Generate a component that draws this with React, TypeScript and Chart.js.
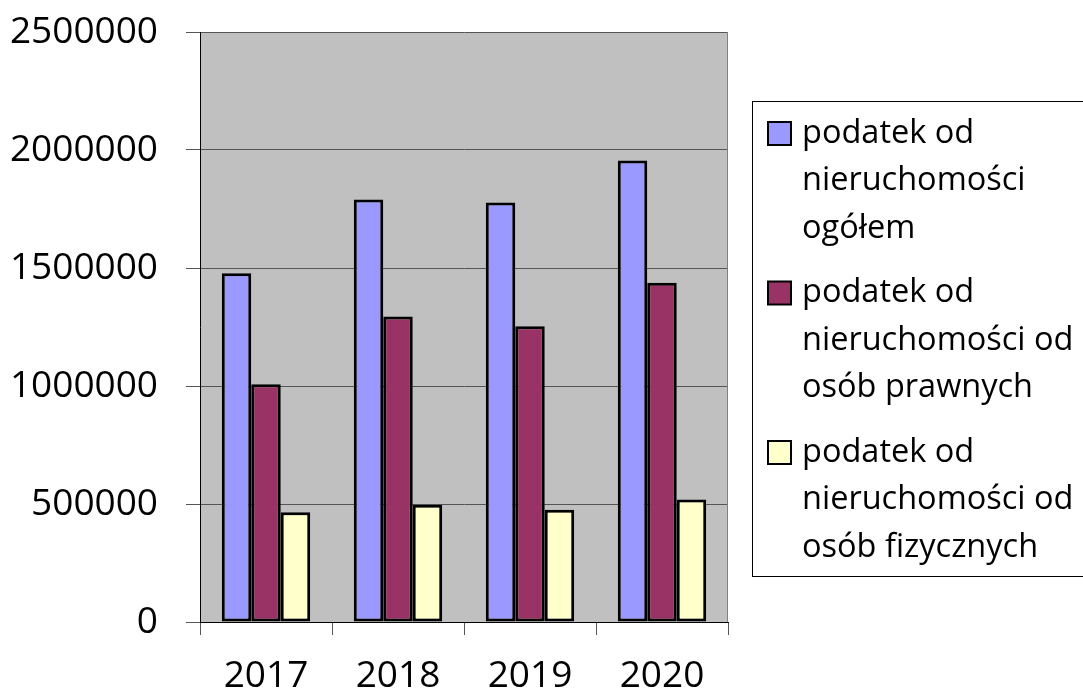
import React, { useEffect, useRef } from 'react';
import { Chart, registerables } from 'chart.js';

Chart.register(...registerables);

const categories = ['2017', '2018', '2019', '2020'];
const seriesLabels = [
  ['podatek od', 'nieruchomości', 'ogółem'],
  ['podatek od', 'nieruchomości od', 'osób prawnych'],
  ['podatek od', 'nieruchomości od', 'osób fizycznych'],
];
const ogolem = [1478000, 1790000, 1778000, 1956000];
const osobyPrawne = [1007000, 1295000, 1253000, 1438000];
const osobyFizyczne = [465000, 497000, 476000, 519000];
const seriesColors = ['#9999FF', '#993366', '#FFFFCC'];
const yMax = 2500000;
const yStep = 500000;

const FONT = "'Open Sans', sans-serif";

const plotBackground = {
  id: 'plotBackground',
  beforeDraw(chart: any) {
    const { ctx, chartArea } = chart;
    ctx.save();
    ctx.fillStyle = '#C0C0C0';
    ctx.fillRect(chartArea.left, chartArea.top, chartArea.right - chartArea.left, chartArea.bottom - chartArea.top);
    ctx.restore();
  },
  afterDraw(chart: any) {
    const { ctx, chartArea } = chart;
    ctx.save();
    ctx.strokeStyle = '#808080';
    ctx.lineWidth = 1;
    ctx.beginPath();
    ctx.moveTo(Math.round(chartArea.right) - 0.5, chartArea.top);
    ctx.lineTo(Math.round(chartArea.right) - 0.5, chartArea.bottom);
    ctx.stroke();
    ctx.restore();
  },
};

const boxLegend = {
  id: 'boxLegend',
  afterDraw(chart: any) {
    const { ctx } = chart;
    ctx.save();
    ctx.strokeStyle = '#000';
    ctx.lineWidth = 1;
    ctx.strokeRect(752.5, 101.5, 400, 475);
    ctx.font = `32.5px ${FONT}`;
    ctx.textBaseline = 'middle';
    ctx.textAlign = 'left';
    ctx.fillStyle = '#000';
    chart.data.datasets.forEach((ds: any, i: number) => {
      const top = 122 + i * 159.5;
      ctx.fillStyle = ds.backgroundColor;
      ctx.fillRect(768, top, 23, 23);
      ctx.strokeStyle = '#000';
      ctx.lineWidth = 2;
      ctx.strokeRect(768, top, 23, 23);
      ctx.fillStyle = '#000';
      const lines: string[] = ds.legendLines;
      lines.forEach((line, j) => {
        ctx.fillText(line, 802, top + 11.5 + j * 47.5);
      });
    });
    ctx.restore();
  },
};

export default function App() {
  const ref = useRef<HTMLCanvasElement>(null);

  useEffect(() => {
    if (!ref.current) return;
    const dataSeries = [ogolem, osobyPrawne, osobyFizyczne];
    const chart = new Chart(ref.current, {
      type: 'bar',
      data: {
        labels: categories,
        datasets: dataSeries.map((d, i) => ({
          label: seriesLabels[i].join(' '),
          legendLines: seriesLabels[i],
          data: d,
          backgroundColor: seriesColors[i],
          borderColor: '#000000',
          borderWidth: 3,
          borderSkipped: false,
          categoryPercentage: 0.67,
          barPercentage: 1.0,
        })) as any,
      },
      options: {
        responsive: false,
        animation: false,
        layout: { padding: { top: 32, right: 355, bottom: 0, left: 0 } },
        plugins: {
          legend: { display: false },
          tooltip: { enabled: false },
        },
        scales: {
          x: {
            offset: true,
            grid: {
              offset: true,
              drawOnChartArea: false,
              drawTicks: true,
              tickLength: 13,
              color: '#555555',
            },
            border: { color: '#000000', width: 1 },
            ticks: {
              color: '#000000',
              font: { family: FONT, size: 37 },
              padding: 19,
            },
            afterFit(scale: any) {
              scale.height = 70;
              scale.paddingLeft = 0;
              scale.paddingRight = 0;
            },
          },
          y: {
            min: 0,
            max: yMax,
            grid: {
              color: '#555555',
              tickLength: 14,
            },
            border: { color: '#000000', width: 1 },
            ticks: {
              stepSize: yStep,
              color: '#000000',
              font: { family: FONT, size: 37 },
              padding: 28,
              callback: (v: any) => String(v),
            },
            afterFit(scale: any) {
              scale.width = 200;
              scale.paddingTop = 0;
              scale.paddingBottom = 0;
            },
          },
        },
      },
      plugins: [plotBackground, boxLegend],
    });
    return () => chart.destroy();
  }, []);

  return (
    <div style={{ position: 'fixed', left: 0, top: 0, width: 1083, height: 692, background: '#fff' }}>
      <canvas ref={ref} width={1083} height={692} style={{ display: 'block' }} />
    </div>
  );
}
